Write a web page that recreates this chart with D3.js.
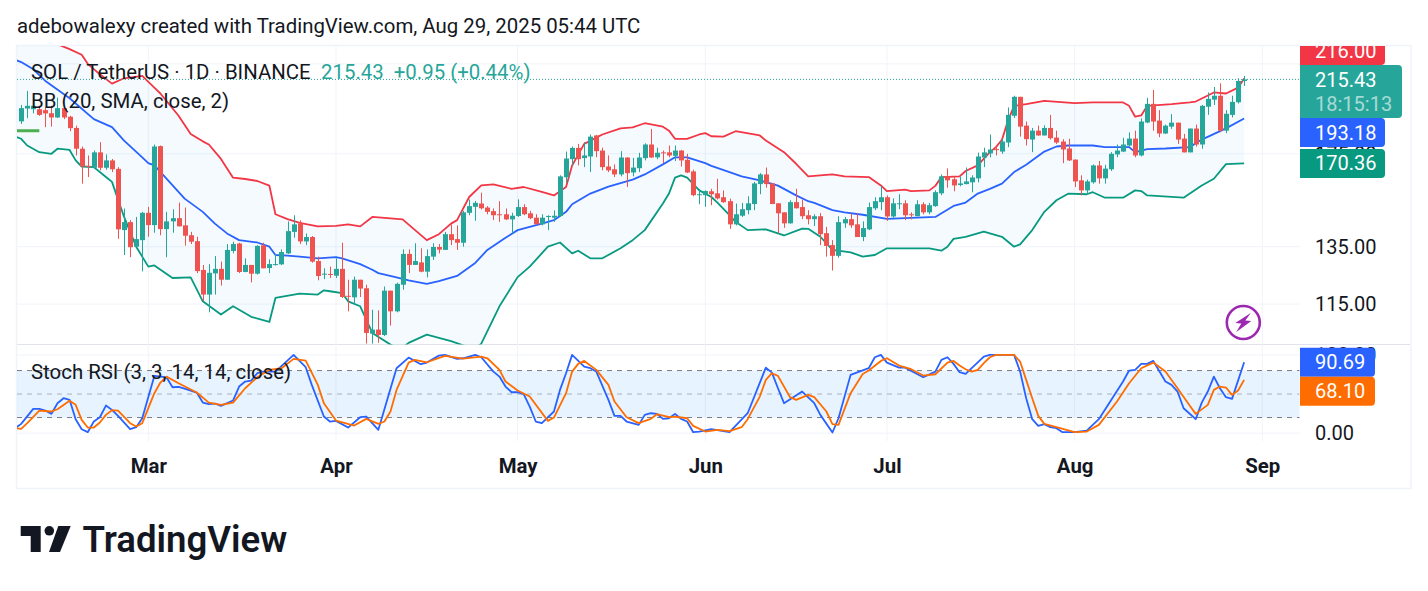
<!DOCTYPE html>
<html lang="en">
<head>
<meta charset="utf-8">
<title>SOL / TetherUS daily</title>
<script src="https://cdn.jsdelivr.net/npm/d3@7/dist/d3.min.js"></script>
<style>
  html, body { margin: 0; padding: 0; background: #fff; }
  svg { display: block; }
  text { font-family: Roboto, sans-serif; fill: #131722; }
</style>
</head>
<body>
<svg id="chart" width="1428" height="591"></svg>
<script>
// Daily candles, one entry per day from the first session onward.
const firstDay = Date.UTC(2025, 1, 8);
const opens = [
191.6,198.6,198.2,198.2,197.7,196.0,193.7,198.8,194.1,188.1,
177.5,169.2,168.3,175.7,168.3,171.8,167.8,141.4,144.6,135.0,
137.5,148.4,143.4,178.8,141.8,144.9,146.2,143.3,139.4,137.1,
126.5,118.1,125.3,126.9,123.1,133.4,136.2,125.8,128.3,125.2,
135.5,127.2,128.3,128.5,132.5,140.7,144.0,137.0,138.7,129.7,
125.0,125.1,124.5,126.9,117.7,117.2,123.1,120.2,105.9,107.1,
105.5,119.4,112.7,121.4,132.3,128.3,129.2,125.9,131.3,134.9,
133.8,139.8,137.9,136.5,148.4,150.9,152.3,150.6,149.1,147.8,
147.8,145.7,147.1,150.8,148.2,146.4,143.7,146.8,146.4,147.1,
163.9,172.4,177.9,172.9,173.7,184.2,176.6,168.9,167.6,165.2,
173.2,166.1,168.1,172.9,179.6,173.3,175.7,175.7,174.0,176.6,
172.1,166.6,155.9,155.9,157.6,156.7,155.0,153.3,143.7,147.2,
149.5,152.1,160.8,165.2,161.1,152.4,148.6,144.1,152.9,150.8,
147.4,145.8,147.0,140.2,135.6,131.6,144.1,145.8,143.7,138.7,
141.7,150.3,152.9,155.0,146.9,152.1,152.4,147.8,147.0,152.0,
148.6,151.2,156.7,164.3,163.0,160.4,160.8,161.6,163.4,173.2,
175.2,177.3,176.1,180.6,194.6,205.2,189.3,182.1,186.7,184.2,
188.1,183.1,181.1,177.6,172.2,162.5,158.0,161.6,169.4,163.4,
167.6,174.7,176.1,179.1,182.6,174.2,191.0,201.2,192.0,185.2,
188.8,190.9,182.6,175.7,187.8,179.6,199.6,203.6,205.8,186.7,
195.1,202.1,214.48];
const highs = [
200.6,208.6,204.8,200.1,199.2,200.1,204.8,200.1,194.6,189.3,
178.6,174.2,176.6,180.8,174.7,172.5,168.6,150.2,145.4,146.7,
148.8,150.9,179.6,179.1,148.8,149.9,152.7,150.6,140.7,138.8,
128.3,128.6,131.5,129.5,136.0,136.9,136.5,130.7,128.3,135.6,
136.5,130.3,132.3,134.0,144.9,147.4,145.3,140.1,139.1,131.3,
127.1,127.7,130.7,136.5,123.1,124.2,123.1,121.4,113.2,113.0,
120.8,119.4,122.1,134.0,134.0,136.3,134.4,134.0,136.3,136.0,
140.7,143.7,143.3,149.2,154.0,153.4,157.0,151.2,150.2,153.3,
150.2,148.4,154.1,152.0,149.2,147.8,147.8,147.4,149.4,164.8,
176.1,178.6,179.9,180.8,184.7,184.5,178.0,174.2,169.9,176.3,
173.3,173.0,175.5,180.2,187.6,178.0,176.6,179.1,179.1,176.9,
175.0,167.4,158.7,158.0,158.7,163.2,158.0,154.4,152.3,152.6,
155.4,161.8,165.8,168.4,161.1,152.4,148.6,153.7,158.7,154.0,
149.5,147.8,148.3,142.7,137.5,147.0,146.7,148.1,148.1,144.9,
152.7,155.0,159.8,155.8,154.5,156.3,153.7,148.6,153.7,152.9,
152.6,158.0,165.2,168.0,164.3,164.3,168.4,164.8,175.6,178.0,
184.7,178.6,182.5,199.2,205.8,205.2,191.5,188.1,189.3,189.5,
195.1,186.7,182.3,182.5,172.2,164.8,162.8,169.9,171.5,169.7,
175.8,179.6,183.0,185.8,186.7,193.2,204.6,209.2,197.7,189.9,
195.5,190.9,185.0,187.8,189.9,200.6,207.7,210.9,213.1,197.7,
205.8,216.1,217.5];
const lows = [
190.2,193.3,195.9,194.6,188.5,188.8,193.4,192.8,186.4,174.2,
161.0,164.0,167.8,167.1,167.4,166.3,138.0,131.9,131.1,135.0,
126.0,138.8,140.4,139.4,131.1,140.4,142.9,135.4,136.0,125.4,
115.9,112.4,118.1,121.1,123.1,132.5,125.4,125.7,122.2,124.9,
127.1,125.4,128.1,128.3,132.3,138.4,136.0,135.6,129.1,122.9,
123.3,123.7,123.7,117.0,112.7,114.8,117.3,103.0,103.0,103.2,
105.2,108.3,112.4,119.7,125.4,128.3,125.7,123.9,130.1,132.5,
133.8,135.6,133.8,135.0,147.4,145.1,149.8,147.8,145.4,144.7,
145.4,140.1,146.7,147.4,145.8,143.6,143.3,141.4,144.7,146.7,
161.3,169.4,169.4,168.6,166.3,173.3,167.1,166.3,164.0,164.3,
159.5,164.3,166.3,171.8,173.0,172.4,170.5,173.3,171.5,168.9,
165.8,155.4,152.0,150.9,151.6,154.0,152.6,141.9,143.3,146.7,
147.8,149.5,156.3,159.2,152.0,140.1,142.3,144.0,150.2,145.8,
143.7,143.0,135.6,131.3,126.3,130.9,142.3,142.3,138.7,137.1,
141.4,149.5,149.5,145.1,146.3,149.9,145.4,145.7,147.0,147.8,
147.8,150.9,155.9,159.2,157.6,159.8,160.7,157.2,161.6,168.6,
173.3,174.2,175.0,178.3,193.4,183.6,179.1,175.8,184.0,184.2,
182.1,179.9,170.5,171.5,159.5,155.8,156.3,161.0,161.0,161.0,
166.8,173.3,175.8,178.6,173.3,173.7,190.6,186.7,183.3,185.0,
187.6,179.9,175.7,175.7,178.6,177.5,195.1,200.6,185.9,185.4,
193.7,201.4,211.5];
const closes = [
198.8,200.1,200.1,195.1,195.9,193.7,198.8,193.7,188.0,177.5,
168.9,168.8,175.7,168.3,171.8,167.6,141.7,144.6,134.8,137.9,
148.4,143.4,178.6,141.8,144.9,146.2,142.9,139.2,136.9,126.1,
118.1,125.5,126.9,123.1,133.8,136.0,125.8,128.3,125.2,135.3,
127.1,128.6,128.6,133.0,141.0,143.7,137.0,138.7,129.5,124.4,
125.2,124.9,126.9,117.3,117.4,123.1,120.1,106.1,107.1,105.5,
119.4,112.7,121.7,132.3,128.3,129.7,125.9,131.5,134.9,133.9,
139.8,137.5,136.5,148.6,151.2,152.6,150.3,148.8,147.4,147.5,
145.7,147.2,150.8,147.8,146.2,143.7,146.4,147.1,147.2,164.3,
172.7,177.9,172.4,174.2,183.6,176.3,168.6,167.1,165.2,173.2,
165.8,168.4,173.2,179.6,173.2,175.5,175.3,174.2,176.6,171.8,
166.1,155.9,156.3,157.7,156.3,154.5,152.9,143.7,147.8,149.9,
152.4,161.1,165.2,160.8,152.1,148.2,144.1,152.9,150.3,147.0,
145.8,147.0,139.8,135.3,131.6,144.6,145.8,143.3,138.7,142.2,
150.8,153.3,155.0,146.9,152.4,152.4,147.4,147.4,152.0,148.6,
151.6,157.2,164.3,162.5,160.2,161.1,162.0,163.8,173.7,175.7,
177.1,176.9,181.1,195.1,205.2,188.8,182.3,186.7,184.2,188.1,
182.8,180.6,177.1,171.8,162.0,158.0,162.0,169.4,163.4,167.9,
175.0,176.6,179.6,182.6,174.2,191.5,201.2,191.5,185.2,189.3,
190.9,182.1,175.7,187.8,179.6,200.1,204.0,205.8,186.7,195.7,
202.3,214.48,215.43];

// Bollinger Bands, [day number, price] at the turning points of each line.
const bbUpper = [[-1,246],[4,241],[8,234.4],[10,230.8],[11,225],[13,218.5],[15,212.9],[17,216.1],[20,217.5],[22,210.5],[23,207.1],[26,194.6],[28,185],[30,181.2],[31,179.6],[33,172.5],[35,163.7],[37,163.1],[39,162.2],[41,160.1],[42,147.8],[44,145.8],[46,144.3],[49,142.9],[52,143.1],[54,143.7],[56,142.9],[58,146.7],[63,145.7],[67,137.5],[69,139.8],[71,144],[72,145.4],[74,155.1],[76,160.2],[78,160.7],[81,158.7],[83,159.5],[86,157.3],[88,155.8],[90,159.5],[91,169.4],[93,179.9],[96,184.7],[99,187.9],[101,188.4],[103,190.6],[106,188.8],[107,186.7],[108,182.5],[110,182.5],[112,184.7],[113,185.4],[114,183.8],[116,183.6],[118,186.4],[122,184.2],[123,181.6],[126,175.8],[128,170.2],[130,164.3],[134,165.2],[136,164.3],[140,164],[142,160.2],[143,157.7],[146,158.3],[147,157.7],[150,158],[151,160],[152,164],[155,164.3],[156,166.8],[158,169.4],[160,175.8],[161,178.3],[162,182],[163,192],[164,200.1],[166,201],[169,202.9],[174,201.6],[177,202],[182,202],[183,200.1],[184,194.1],[185,194.8],[186,200.1],[190,201],[193,202],[194,202.5],[197,207.7],[199,207.1],[201,210.5],[202,216.00]];
const bbBasis = [[-1,227.5],[0,226.1],[2,221.6],[4,214.5],[8,204.4],[12,192.8],[15,188.5],[17,181.6],[20,173.3],[21,170.5],[22,169.4],[24,163.3],[27,154.4],[30,148.8],[32,144],[34,140.1],[36,137.5],[39,136.6],[41,135],[42,131.9],[44,131.7],[46,131.3],[49,130.7],[52,131.1],[53,130.7],[56,128.6],[58,126.6],[59,125.4],[62,123.9],[64,122.9],[67,121.7],[69,122.6],[72,124.4],[75,129],[77,133.8],[80,138.4],[82,141.4],[86,144],[88,145.4],[90,148.8],[91,152],[94,156.6],[97,159.7],[101,162.8],[103,165.2],[106,169.9],[108,173.3],[110,173.3],[113,170.5],[114,169.2],[117,166.3],[119,164.3],[122,162.5],[125,160.1],[128,155.8],[130,153.3],[131,152.6],[134,149.5],[136,148.6],[139,147.6],[143,145.9],[151,146.7],[154,151.3],[156,152.7],[158,156.6],[160,158.7],[162,161],[164,166.3],[166,169.7],[169,176.1],[171,178.6],[173,179.1],[177,179.1],[179,178.3],[183,178.3],[184,175.8],[186,177.3],[189,177.6],[193,178.3],[195,182.1],[199,187.9],[202,193.18]];
const bbLower = [[-1,183.7],[0,182.5],[1,179.1],[3,175.8],[5,175],[6,177.5],[8,176.9],[9,171.8],[10,168.9],[12,168.6],[14,164],[15,161.8],[17,146.7],[19,135],[21,127.7],[22,128.1],[25,123.7],[28,123.9],[30,115.9],[33,111.7],[35,114.3],[38,111],[41,109.4],[42,117],[46,118.4],[49,118.1],[50,119.5],[51,119.2],[53,118.6],[54,115.9],[56,114.3],[58,106.1],[61,102.7],[62,101.8],[63,101.8],[64,103.2],[67,105.6],[71,103.7],[73,102.5],[75,101.4],[76,103],[79,114.3],[82,124],[84,127.7],[87,135],[89,136.6],[91,132.5],[92,133.5],[94,130.7],[96,130.7],[99,134.4],[101,137.5],[103,141.4],[106,152.3],[107,156.6],[108,163.7],[109,164.8],[110,163.7],[112,158],[114,155.1],[115,152.7],[117,147.4],[118,144.7],[120,141.4],[123,141.7],[126,139.3],[129,142],[130,141.9],[132,138.8],[134,133.8],[137,132.9],[139,131.3],[141,131.9],[143,134.4],[150,134.4],[152,133.5],[153,135],[154,138],[156,138.8],[159,140.8],[160,140.1],[162,138.8],[163,136.9],[164,135],[165,135.9],[167,141.4],[169,148.8],[171,153.7],[173,156.6],[176,156.3],[177,157.2],[179,154.8],[182,154.8],[184,158],[185,157.7],[186,155.8],[192,154.8],[195,160.2],[197,163.2],[199,170],[202,170.36]];

// Stochastic RSI, [day number, value] at the turning points of each line.
const stochK = [[-1,6.4],[0,11.9],[2,31.1],[3,31.1],[4,28.9],[5,24.7],[6,38.3],[7,44.7],[8,42.6],[9,17.9],[10,5.1],[11,1.3],[12,14.9],[13,20.4],[14,35.3],[15,29.8],[16,22.1],[18,5.1],[19,7.7],[20,19.1],[22,73.2],[23,72.3],[24,71.5],[25,58.7],[26,59.1],[27,57],[29,51.9],[30,39.1],[31,37],[32,37.9],[33,34.9],[35,41.7],[36,59.6],[37,66],[38,67.2],[39,76.6],[40,78.7],[42,78.7],[45,100],[47,84.3],[48,61.7],[50,21.3],[51,14.9],[52,15.7],[54,7.2],[56,20.4],[57,21.3],[59,4.3],[62,83],[64,96.6],[66,88.1],[67,90.2],[69,99.1],[70,100],[72,94.9],[73,95.7],[75,100],[76,97],[78,78.7],[79,72.3],[80,59.6],[81,52.3],[82,52.3],[83,49.8],[84,34],[85,14.9],[86,12.8],[88,27.7],[89,55.3],[90,76.6],[91,100],[93,85.1],[94,83],[95,78.7],[97,42.6],[98,22.1],[99,22.1],[100,14.9],[102,10.6],[103,23.4],[104,25.5],[105,24.7],[106,18.3],[107,19.1],[108,24.7],[109,18.3],[110,14.9],[111,1.3],[112,2.1],[114,5.1],[117,1.3],[120,25.5],[123,83.8],[124,77.4],[125,57.4],[126,38.3],[129,53.2],[131,38.3],[132,23.4],[134,0.9],[135,19.1],[137,74.5],[140,83],[141,97],[142,100],[143,90.2],[145,83.8],[146,83.8],[149,71.5],[151,78.7],[152,93.6],[153,97],[154,88.5],[155,77.9],[156,75.7],[159,97.9],[160,100],[164,100],[165,78.7],[166,44.7],[167,17.9],[168,9.4],[169,11.5],[170,7.7],[171,6.4],[172,1.3],[174,1.3],[176,3.4],[178,17.9],[182,66],[183,80],[184,80.9],[185,88.5],[186,88.5],[187,92.3],[189,66],[190,61.7],[191,53.2],[192,31.9],[194,17.9],[195,39.1],[196,53.2],[197,72.3],[198,57.4],[199,46],[200,43.8],[202,90.69]];
const stochD = [[-1,6.4],[0,5.5],[1,12.8],[3,28.9],[5,27.7],[6,30.6],[8,41.3],[9,36.2],[10,17],[11,7.2],[12,7.2],[13,13.6],[14,23.4],[15,29.4],[16,28.9],[18,12.8],[19,8.5],[20,12.8],[22,51.1],[23,64.7],[24,72.3],[26,63.8],[29,51.9],[31,39.1],[33,36.2],[35,39.1],[37,57.4],[39,71.5],[41,80.9],[43,83],[45,94.9],[47,92.8],[49,61.7],[50,38.3],[52,16.2],[55,9.8],[57,18.3],[59,11.9],[60,14.9],[61,27.7],[62,55.3],[64,90.2],[65,93.6],[67,90.6],[70,98.7],[73,95.3],[76,97.9],[77,95.7],[79,80.9],[80,66],[82,54.5],[84,46.8],[87,15.7],[88,20],[90,51.1],[91,78.7],[92,88.5],[93,92.3],[95,80.9],[97,61.7],[98,40.4],[100,20.4],[102,12.8],[104,18.3],[105,24.3],[107,20.4],[108,21.3],[110,19.1],[111,9.4],[113,2.1],[115,4.3],[117,2.6],[119,7.7],[120,17.9],[122,46.8],[123,68.1],[124,76.6],[125,73.2],[127,46],[128,42.6],[130,48.9],[131,46],[133,27.7],[134,11.5],[135,10.6],[137,51.1],[139,75.7],[140,80],[142,92.3],[143,95.7],[145,86.4],[147,81.7],[149,73.6],[151,75.3],[153,90.2],[154,92.3],[155,86.4],[156,81.7],[157,78.7],[158,80.9],[159,89.4],[160,97],[161,100],[164,100],[165,91.5],[166,68.1],[167,44.7],[168,22.1],[169,11.9],[171,7.7],[174,1.3],[176,2.1],[178,10.6],[181,40.4],[183,63.8],[185,83],[187,90.2],[189,78.7],[191,57.4],[193,35.3],[194,24.7],[196,36.2],[197,55.3],[198,59.6],[199,58.3],[200,48.9],[201,54.5],[202,68.10]];

// Levels and labels for the axes and the overlay text.
const priceGrid = [225, 175, 135, 115];
const priceTickLabels = [175, 135, 115];
const stochGrid = [100, 0];
const stochTickLabels = [100, 0];
const stochBand = [80, 20];
const stochMid = 50;
const horizontalRay = { price: 186.7, fromDay: -1, toDay: 3 };
const monthTicks = [[2025,2],[2025,3],[2025,4],[2025,5],[2025,6],[2025,7],[2025,8]];
const lastPrice = 215.43;
const priceChange = 0.95;
const priceChangePct = 0.44;
const countdown = "18:15:13";

const colors = {
  up: "#26a69a", down: "#ef5350", upper: "#f23645", basis: "#2962ff", lower: "#089981",
  k: "#2962ff", d: "#ff6d00", grid: "#f0f3fa"
};

// Pane geometry.
const L = 17, R = 1299.5, TOP = 46, PANE = 344.5, BOTTOM = 441;
const svg = d3.select("#chart");
const day = i => new Date(firstDay + i * 864e5);

const x = d3.scaleUtc()
  .domain([new Date(Date.UTC(2025, 2, 1)), new Date(Date.UTC(2025, 8, 1))])
  .range([148.3, 1262.3]);
const y = d3.scaleLog().domain([135, 115]).range([246.7, 304.1]);
const ys = d3.scaleLinear().domain([0, 100]).range([433.2, 354.9]);

const defs = svg.append("defs");
defs.append("clipPath").attr("id", "price-clip").append("rect")
  .attr("x", L).attr("y", TOP).attr("width", R - L).attr("height", PANE - TOP);
defs.append("clipPath").attr("id", "stoch-clip").append("rect")
  .attr("x", L).attr("y", PANE).attr("width", R - L).attr("height", BOTTOM - PANE);
defs.append("clipPath").attr("id", "tag-clip").append("rect")
  .attr("x", 1300).attr("y", TOP).attr("width", 110).attr("height", 445 - TOP + 20);

// Header line above the chart frame.
svg.append("text").attr("x", 17).attr("y", 33).attr("font-size", 20.4)
  .text("adebowalexy created with TradingView.com, Aug 29, 2025 05:44 UTC");

// Outer frame and pane divider.
svg.append("rect").attr("x", 16.5).attr("y", 45.5).attr("width", 1394.5).attr("height", 443)
  .attr("fill", "none").attr("stroke", colors.grid).attr("stroke-width", 1.5);
svg.append("line").attr("x1", L).attr("x2", 1410).attr("y1", PANE).attr("y2", PANE)
  .attr("stroke", "#e0e3eb").attr("stroke-width", 1);

// Month grid lines span both panes.
const months = monthTicks.map(([yr, m]) => new Date(Date.UTC(yr, m, 1)));
svg.append("g").selectAll("line").data(months).join("line")
  .attr("x1", d => x(d)).attr("x2", d => x(d))
  .attr("y1", TOP).attr("y2", BOTTOM)
  .attr("stroke", colors.grid);

// Price pane grid.
svg.append("g").selectAll("line").data(priceGrid).join("line")
  .attr("x1", L).attr("x2", R).attr("y1", d => y(d)).attr("y2", d => y(d))
  .attr("stroke", colors.grid);

// Stochastic pane grid and shaded band.
svg.append("g").selectAll("line").data(stochGrid).join("line")
  .attr("x1", L).attr("x2", R).attr("y1", d => ys(d)).attr("y2", d => ys(d))
  .attr("stroke", colors.grid);
svg.append("rect").attr("x", L).attr("width", R - L)
  .attr("y", ys(stochBand[0])).attr("height", ys(stochBand[1]) - ys(stochBand[0]))
  .attr("fill", "#2196f3").attr("fill-opacity", 0.11);
svg.append("g").selectAll("line").data(stochBand).join("line")
  .attr("x1", L).attr("x2", R).attr("y1", d => ys(d)).attr("y2", d => ys(d))
  .attr("stroke", "#787b86").attr("stroke-dasharray", "5 5");
svg.append("line").attr("x1", L).attr("x2", R).attr("y1", ys(stochMid)).attr("y2", ys(stochMid))
  .attr("stroke", "#787b86").attr("stroke-opacity", 0.55).attr("stroke-dasharray", "5 5");

// Bollinger band fill and lines sit under the candles.
const price = svg.append("g").attr("clip-path", "url(#price-clip)");
const pricePath = d3.line().x(d => x(day(d[0]))).y(d => y(d[1]));
price.append("path")
  .attr("d", pricePath(bbUpper.concat(bbLower.slice().reverse())) + "Z")
  .attr("fill", "#2196f3").attr("fill-opacity", 0.05);
[[bbUpper, colors.upper], [bbBasis, colors.basis], [bbLower, colors.lower]].forEach(([s, c]) => {
  price.append("path").attr("d", pricePath(s)).attr("fill", "none")
    .attr("stroke", c).attr("stroke-width", 1.8).attr("stroke-linejoin", "round");
});
price.append("line")
  .attr("x1", x(day(horizontalRay.fromDay))).attr("x2", x(day(horizontalRay.toDay)))
  .attr("y1", y(horizontalRay.price)).attr("y2", y(horizontalRay.price))
  .attr("stroke", "#4caf50").attr("stroke-width", 3);

// Candles.
const candles = opens.map((o, i) => ({ i, o, h: highs[i], l: lows[i], c: closes[i] }));
const tone = d => d.c >= d.o ? colors.up : colors.down;
const candle = price.append("g").selectAll("g").data(candles).join("g");
candle.append("line")
  .attr("x1", d => Math.round(x(day(d.i))) + 0.5).attr("x2", d => Math.round(x(day(d.i))) + 0.5)
  .attr("y1", d => y(d.h)).attr("y2", d => y(d.l))
  .attr("stroke", tone);
candle.append("rect")
  .attr("x", d => Math.round(x(day(d.i))) - 2).attr("width", 5)
  .attr("y", d => y(Math.max(d.o, d.c)))
  .attr("height", d => Math.max(1, Math.abs(y(d.o) - y(d.c))))
  .attr("fill", tone);

// Last price marker across the pane.
svg.append("line").attr("x1", L).attr("x2", R).attr("y1", y(lastPrice)).attr("y2", y(lastPrice))
  .attr("stroke", colors.up).attr("stroke-dasharray", "1 2");

// Stochastic lines.
const stochPath = d3.line().x(d => x(day(d[0]))).y(d => ys(d[1]));
const stoch = svg.append("g").attr("clip-path", "url(#stoch-clip)");
[[stochK, colors.k], [stochD, colors.d]].forEach(([s, c]) => {
  stoch.append("path").attr("d", stochPath(s)).attr("fill", "none")
    .attr("stroke", c).attr("stroke-width", 1.8).attr("stroke-linejoin", "round");
});

// Overlay legends.
const legend = svg.append("g").attr("font-size", 20.4);
legend.append("text").attr("x", 31).attr("y", 79).text("SOL / TetherUS · 1D · BINANCE");
legend.append("text").attr("x", 321).attr("y", 79).style("fill", colors.up)
  .text(`${d3.format(".2f")(lastPrice)}  ${d3.format("+.2f")(priceChange)} (${d3.format("+.2f")(priceChangePct)}%)`)
  .style("white-space", "pre");
legend.append("text").attr("x", 31).attr("y", 108).text("BB (20, SMA, close, 2)");
legend.append("text").attr("x", 31).attr("y", 379).text("Stoch RSI (3, 3, 14, 14, close)");

// Time axis.
const timeAxis = d3.axisBottom(x).tickValues(months).tickFormat(d3.utcFormat("%b")).tickSize(0).tickPadding(0);
const timeG = svg.append("g").attr("transform", "translate(0,459)").call(timeAxis);
timeG.select(".domain").remove();
timeG.selectAll("text").attr("font-size", 20.4).attr("font-weight", 700)
  .attr("font-family", "Roboto, sans-serif").style("fill", "#131722");

// Price and oscillator axes; two labels end up mostly beneath the value tags.
const priceAxis = d3.axisRight(y).tickValues(priceTickLabels).tickFormat(d3.format(".2f")).tickSize(0).tickPadding(15);
const pAxisG = svg.append("g").attr("transform", "translate(1300,0)").call(priceAxis);
const stochAxis = d3.axisRight(ys).tickValues(stochTickLabels).tickFormat(d3.format(".2f")).tickSize(0).tickPadding(15);
const sAxisG = svg.append("g").attr("transform", "translate(1300,0)").call(stochAxis);
[pAxisG, sAxisG].forEach(g => {
  g.select(".domain").remove();
  g.selectAll("text").attr("font-size", 20).attr("font-family", "Roboto, sans-serif").style("fill", "#131722");
});

// Value tags, pushed apart where they would overlap.
const tagLayer = svg.append("g").attr("clip-path", "url(#tag-clip)");
function tag(top, h, w, fill, lines) {
  const r = 4, x0 = 1300;
  tagLayer.append("path").attr("fill", fill)
    .attr("d", `M${x0},${top}H${x0 + w - r}Q${x0 + w},${top} ${x0 + w},${top + r}V${top + h - r}Q${x0 + w},${top + h} ${x0 + w - r},${top + h}H${x0}Z`);
  lines.forEach(([t, cy, op]) => {
    tagLayer.append("text").attr("x", x0 + 15).attr("y", cy + 7).attr("font-size", 20)
      .style("fill", "#fff").style("fill-opacity", op).text(t);
  });
}
const fmt = d3.format(".2f");
const upperNow = bbUpper[bbUpper.length - 1][1];
const basisNow = bbBasis[bbBasis.length - 1][1];
const lowerNow = bbLower[bbLower.length - 1][1];
const kNow = stochK[stochK.length - 1][1];
const dNow = stochD[stochD.length - 1][1];

const lastTop = y(lastPrice) - 14.3, lastH = 53;
const tagH = 29;
tag(lastTop - tagH, tagH, 85, colors.upper, [[fmt(upperNow), lastTop - tagH / 2, 1]]);
tag(lastTop, lastH, 102, colors.up, [[fmt(lastPrice), lastTop + 15, 1], [countdown, lastTop + 39, 0.6]]);
const basisTop = Math.max(y(basisNow) - tagH / 2, lastTop + lastH);
tag(basisTop, tagH, 85, colors.basis, [[fmt(basisNow), basisTop + tagH / 2, 1]]);
const lowerTop = Math.max(y(lowerNow) - tagH / 2, basisTop + tagH);
tag(lowerTop, tagH, 85, colors.lower, [[fmt(lowerNow), lowerTop + tagH / 2, 1]]);
const kTop = ys(kNow) - tagH / 2;
tag(kTop, tagH, 75, colors.k, [[fmt(kNow), kTop + tagH / 2, 1]]);
const dTop = Math.max(ys(dNow) - tagH / 2, kTop + tagH);
tag(dTop, tagH, 75, colors.d, [[fmt(dNow), dTop + tagH / 2, 1]]);

// Lightning badge in the lower right of the price pane.
const badge = svg.append("g").attr("transform", "translate(1243.3,322.5)");
badge.append("circle").attr("r", 16.5).attr("fill", "#fff").attr("stroke", "#9c27b0").attr("stroke-width", 2.6);
badge.append("path").attr("fill", "#9c27b0")
  .attr("d", "M7.5,-9.5 L-8,0.5 L-2,1 L-7,9.5 L8,-1.5 L2,-2 Z");

// Brand mark and wordmark.
const brand = svg.append("g").attr("fill", "#131722");
brand.append("path").attr("d", "M20.7,526H40.7V552H30.7V536H20.7Z");
brand.append("circle").attr("cx", 49.3).attr("cy", 530.8).attr("r", 4.8);
brand.append("path").attr("d", "M58.3,526H70.7L60,552H49Z");
svg.append("text").attr("x", 82.5).attr("y", 552).attr("font-family", "Inter, sans-serif")
  .attr("font-size", 36.6).attr("font-weight", 600).text("TradingView");
</script>
</body>
</html>
